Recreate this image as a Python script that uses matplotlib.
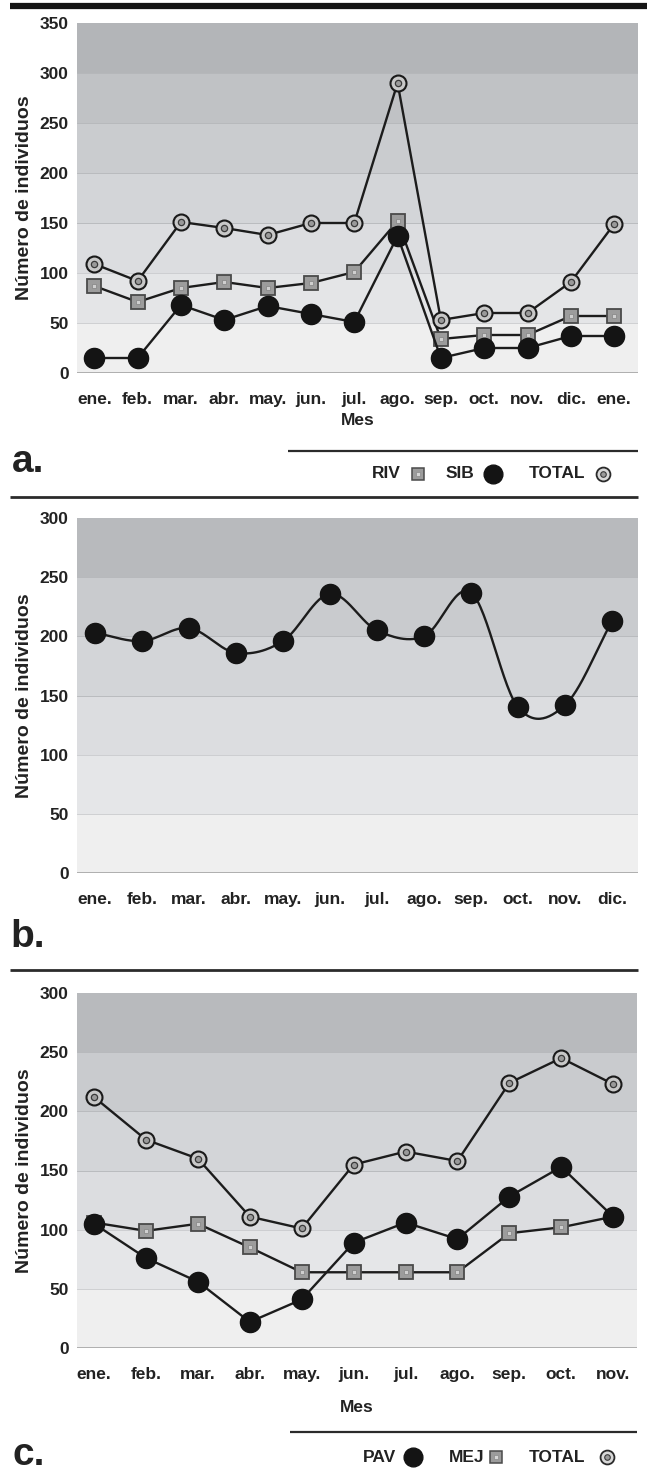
import numpy as np
import matplotlib
matplotlib.use("Agg")
import matplotlib.pyplot as plt
from matplotlib import font_manager as fm
from matplotlib.lines import Line2D

# ---------------- data ----------------
months_a = ["ene.", "feb.", "mar.", "abr.", "may.", "jun.", "jul.", "ago.",
            "sep.", "oct.", "nov.", "dic.", "ene."]
riv_a = [87, 71, 85, 91, 85, 90, 101, 152, 34, 38, 38, 57, 57]
sib_a = [15, 15, 68, 53, 67, 59, 51, 137, 15, 25, 25, 37, 37]
total_a = [109, 92, 151, 145, 138, 150, 150, 290, 53, 60, 60, 91, 149]

months_b = ["ene.", "feb.", "mar.", "abr.", "may.", "jun.", "jul.", "ago.",
            "sep.", "oct.", "nov.", "dic."]
vals_b = [203, 196, 207, 186, 196, 236, 205, 200, 237, 140, 142, 213]

months_c = ["ene.", "feb.", "mar.", "abr.", "may.", "jun.", "jul.", "ago.",
            "sep.", "oct.", "nov."]
pav_c = [105, 76, 56, 22, 41, 89, 106, 92, 128, 153, 111]
mej_c = [106, 99, 105, 85, 64, 64, 64, 64, 97, 102, 111]
total_c = [212, 176, 160, 111, 101, 155, 166, 158, 224, 245, 223]

# ---------------- style ----------------
names = {f.name for f in fm.fontManager.ttflist}
FONT = "Liberation Sans" if "Liberation Sans" in names else "DejaVu Sans"
plt.rcParams["font.family"] = [FONT, "DejaVu Sans"]
plt.rcParams["font.weight"] = "bold"
TXT = "#222222"
FS = 12.5

W, H = 647, 1480
fig = plt.figure(figsize=(W / 100, H / 100), dpi=100)
fig.patch.set_facecolor("white")


def px_axes(left, top, right, bottom):
    return fig.add_axes([left / W, 1 - bottom / H, (right - left) / W, (bottom - top) / H])


def hline(y, x0, x1, lw, color="#2b2b2b"):
    fig.add_artist(Line2D([x0 / W, x1 / W], [1 - y / H, 1 - y / H],
                          transform=fig.transFigure, lw=lw, color=color,
                          solid_capstyle="butt"))


BANDS_A = ["#efefef", "#e4e5e7", "#dcdde0", "#d3d5d8", "#cacccf", "#c0c2c5", "#b3b5b8"]
BANDS_BC = ["#efefef", "#e5e6e8", "#dcdde0", "#d3d5d8", "#c9cbce", "#b8babd"]


def style_axes(ax, ymax, bands, xlim, labels):
    ax.set_facecolor("white")
    for i, c in enumerate(bands):
        ax.axhspan(i * 50, (i + 1) * 50, color=c, lw=0, zorder=0)
        if i > 0:
            ax.axhline(i * 50, color="#c9cacd" if i < 3 else "#b4b6b9", lw=0.6, zorder=0.5)
    ax.set_ylim(0, ymax)
    ax.set_xlim(*xlim)
    for s in ax.spines.values():
        s.set_visible(False)
    ax.axhline(0, color="#a9a9a9", lw=2.0, zorder=1)
    ax.set_yticks(np.arange(0, ymax + 1, 50))
    ax.set_xticks(np.arange(len(labels)))
    ax.set_xticklabels(labels, fontsize=FS, fontweight="bold", color=TXT)
    ax.tick_params(axis="both", length=0)
    ax.tick_params(axis="y", pad=6, labelsize=FS, labelcolor=TXT)
    ax.tick_params(axis="x", pad=14)
    for t in ax.get_yticklabels():
        t.set_fontweight("bold")
    ax.set_ylabel("Número de individuos", fontsize=14, fontweight="bold", color=TXT,
                  labelpad=5)


LW = 1.7
SQ = dict(marker="s", ms=10.5, mfc="#9c9c9c", mec="#4a4a4a", mew=1.3)
SQ_IN = dict(marker="s", ms=3.4, mfc="#cfcfcf", mec="#8a8a8a", mew=0.6, ls="none")
DOT = dict(marker="o", ms=14.5, mfc="#141414", mec="#141414", mew=1)
RING = dict(marker="o", ms=11.5, mfc="#c8c8c8", mec="#1a1a1a", mew=1.5)
RING_IN = dict(marker="o", ms=4.5, mfc="#9a9a9a", mec="#3a3a3a", mew=0.9, ls="none")


def draw_square(ax, x, y, z):
    ax.plot(x, y, color="#1c1c1c", lw=LW, zorder=z, **SQ)
    ax.plot(x, y, zorder=z + 0.1, **SQ_IN)


def draw_ring(ax, x, y, z):
    ax.plot(x, y, color="#1c1c1c", lw=LW, zorder=z, **RING)
    ax.plot(x, y, zorder=z + 0.1, **RING_IN)


def draw_dot(ax, x, y, z):
    ax.plot(x, y, color="#1c1c1c", lw=LW, zorder=z, **DOT)


def catmull_rom(x, y, n=30):
    x = np.asarray(x, float)
    y = np.asarray(y, float)
    xs, ys = [], []
    for i in range(len(x) - 1):
        p0 = y[i - 1] if i > 0 else y[i]
        p3 = y[i + 2] if i + 2 < len(y) else y[i + 1]
        p1, p2 = y[i], y[i + 1]
        m1 = (p2 - p0) / (2 if i > 0 else 1)
        m2 = (p3 - p1) / (2 if i + 2 < len(y) else 1)
        t = np.linspace(0, 1, n, endpoint=False)
        h00 = 2 * t ** 3 - 3 * t ** 2 + 1
        h10 = t ** 3 - 2 * t ** 2 + t
        h01 = -2 * t ** 3 + 3 * t ** 2
        h11 = t ** 3 - t ** 2
        xs.append(x[i] + t * (x[i + 1] - x[i]))
        ys.append(h00 * p1 + h10 * m1 + h01 * p2 + h11 * m2)
    xs.append([x[-1]])
    ys.append([y[-1]])
    return np.concatenate(xs), np.concatenate(ys)


def legend_row(items, y):
    for text, xt, kind, xm in items:
        fig.text(xt / W, 1 - y / H, text, ha="center", va="center", fontsize=FS,
                 fontweight="bold", color=TXT)
        kw = {"dot": dict(marker="o", ms=13.5, mfc="#141414", mec="#141414"),
              "sq": dict(marker="s", ms=8.5, mfc="#9c9c9c", mec="#4a4a4a", mew=1.1),
              "ring": dict(marker="o", ms=10, mfc="#d8d8d8", mec="#2a2a2a", mew=1.3)}[kind]
        fig.add_artist(Line2D([xm / W], [1 - y / H], transform=fig.transFigure, **kw))
        if kind == "sq":
            fig.add_artist(Line2D([xm / W], [1 - y / H], transform=fig.transFigure,
                                  marker="s", ms=3, mfc="#d6d6d6", mec="#8a8a8a", mew=0.5))
        if kind == "ring":
            fig.add_artist(Line2D([xm / W], [1 - y / H], transform=fig.transFigure,
                                  marker="o", ms=4, mfc="#9a9a9a", mec="#3a3a3a", mew=0.8))


# ---------------- panel a ----------------
ax_a = px_axes(77, 23, 638, 373)
style_axes(ax_a, 350, BANDS_A, (-0.4, 12.55), months_a)
xa = np.arange(len(months_a))
draw_square(ax_a, xa, riv_a, 3)
draw_ring(ax_a, xa, total_a, 4)
draw_dot(ax_a, xa, sib_a, 5)
ax_a.set_xlabel("Mes", fontsize=FS, fontweight="bold", color=TXT, labelpad=4)

hline(6, 10, 647, 4.5, "#151515")
fig.text(12 / W, 1 - 462 / H, "a.", fontsize=28, fontweight="bold", color=TXT,
         ha="left", va="center")
hline(451, 288, 638, 1.6)
legend_row([("RIV", 386, "sq", 418), ("SIB", 460, "dot", 493), ("TOTAL", 557, "ring", 603)], 474)
hline(497, 10, 638, 2.0)

# ---------------- panel b ----------------
ax_b = px_axes(77, 518, 638, 873)
style_axes(ax_b, 300, BANDS_BC, (-0.38, 11.55), months_b)
xb = np.arange(len(months_b))
sx, sy = catmull_rom(xb, vals_b)
ax_b.plot(sx, sy, color="#1c1c1c", lw=LW, zorder=3)
ax_b.plot(xb, vals_b, ls="none", zorder=4, **DOT)
fig.text(10 / W, 1 - 937 / H, "b.", fontsize=28, fontweight="bold", color=TXT,
         ha="left", va="center")
hline(970, 10, 638, 2.0)

# ---------------- panel c ----------------
ax_c = px_axes(77, 993, 637, 1348)
style_axes(ax_c, 300, BANDS_BC, (-0.33, 10.46), months_c)
xc = np.arange(len(months_c))
draw_square(ax_c, xc, mej_c, 3)
draw_ring(ax_c, xc, total_c, 4)
draw_dot(ax_c, xc, pav_c, 5)
ax_c.set_xlabel("Mes", fontsize=FS, fontweight="bold", color=TXT, labelpad=13)
hline(1432, 290, 637, 1.6)
fig.text(12 / W, 1 - 1455 / H, "c.", fontsize=28, fontweight="bold", color=TXT,
         ha="left", va="center")
legend_row([("PAV", 380, "dot", 413), ("MEJ", 467, "sq", 496), ("TOTAL", 557, "ring", 607)], 1457)

fig.savefig("out.png", dpi=100, facecolor="white")
